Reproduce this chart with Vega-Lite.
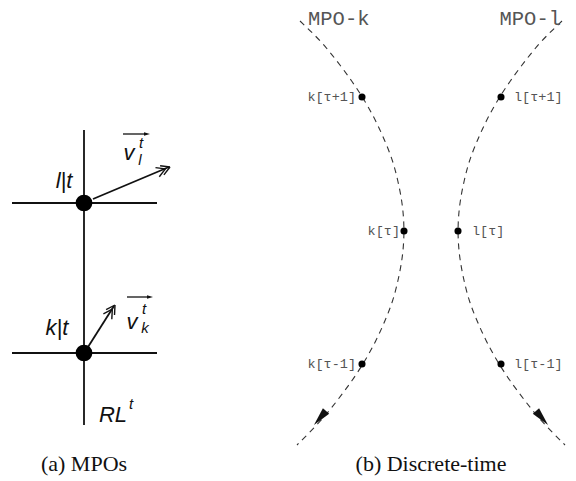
{
  "$schema": "https://vega.github.io/schema/vega-lite/v6.json",
  "width": 576,
  "height": 481,
  "padding": 0,
  "autosize": {"type": "none"},
  "background": "white",
  "config": {"view": {"stroke": null}},
  "datasets": {
    "segs": [
      {"x": 84, "y": 130, "x2": 84, "y2": 425},
      {"x": 12, "y": 203, "x2": 157, "y2": 203},
      {"x": 12, "y": 353, "x2": 157, "y2": 353},
      {"x": 93, "y": 199, "x2": 169, "y2": 167},
      {"x": 88, "y": 347, "x2": 114, "y2": 306}
    ],
    "chev": [
      {"x": 170, "y": 167, "x2": 160.1, "y2": 165.7},
      {"x": 170, "y": 167, "x2": 163.9, "y2": 174.9},
      {"x": 165.4, "y": 168.9, "x2": 155.5, "y2": 167.6},
      {"x": 165.4, "y": 168.9, "x2": 159.3, "y2": 176.8},
      {"x": 115, "y": 305, "x2": 106.1, "y2": 309.6},
      {"x": 115, "y": 305, "x2": 114.5, "y2": 315},
      {"x": 112.3, "y": 309.2, "x2": 103.4, "y2": 313.8},
      {"x": 112.3, "y": 309.2, "x2": 111.8, "y2": 319.2}
    ],
    "over": [
      {"x": 123, "y": 134, "x2": 146, "y2": 134},
      {"x": 127, "y": 297, "x2": 149, "y2": 297}
    ],
    "overHead": [
      {"x": 147, "y": 134},
      {"x": 150, "y": 297}
    ],
    "bigDots": [
      {"x": 84, "y": 203},
      {"x": 84, "y": 353}
    ],
    "curves": [
      {"c": "k", "x": 300, "y": 21}, {"c": "k", "x": 321, "y": 41}, {"c": "k", "x": 337, "y": 61},
      {"c": "k", "x": 352, "y": 81}, {"c": "k", "x": 365, "y": 101}, {"c": "k", "x": 376, "y": 121},
      {"c": "k", "x": 385, "y": 141}, {"c": "k", "x": 393, "y": 161}, {"c": "k", "x": 398, "y": 181},
      {"c": "k", "x": 402, "y": 201}, {"c": "k", "x": 404, "y": 221}, {"c": "k", "x": 404, "y": 241},
      {"c": "k", "x": 402, "y": 261}, {"c": "k", "x": 398, "y": 281}, {"c": "k", "x": 393, "y": 301},
      {"c": "k", "x": 385, "y": 321}, {"c": "k", "x": 376, "y": 341}, {"c": "k", "x": 365, "y": 361},
      {"c": "k", "x": 352, "y": 381}, {"c": "k", "x": 337, "y": 401}, {"c": "k", "x": 321, "y": 421},
      {"c": "k", "x": 297, "y": 445},
      {"c": "l", "x": 562, "y": 21}, {"c": "l", "x": 541, "y": 41}, {"c": "l", "x": 525, "y": 61},
      {"c": "l", "x": 510, "y": 81}, {"c": "l", "x": 497, "y": 101}, {"c": "l", "x": 486, "y": 121},
      {"c": "l", "x": 477, "y": 141}, {"c": "l", "x": 469, "y": 161}, {"c": "l", "x": 464, "y": 181},
      {"c": "l", "x": 460, "y": 201}, {"c": "l", "x": 458, "y": 221}, {"c": "l", "x": 458, "y": 241},
      {"c": "l", "x": 460, "y": 261}, {"c": "l", "x": 464, "y": 281}, {"c": "l", "x": 469, "y": 301},
      {"c": "l", "x": 477, "y": 321}, {"c": "l", "x": 486, "y": 341}, {"c": "l", "x": 497, "y": 361},
      {"c": "l", "x": 510, "y": 381}, {"c": "l", "x": 525, "y": 401}, {"c": "l", "x": 541, "y": 421},
      {"c": "l", "x": 565, "y": 445}
    ],
    "smallDots": [
      {"x": 362, "y": 97}, {"x": 404, "y": 231}, {"x": 362, "y": 364},
      {"x": 501, "y": 97}, {"x": 458, "y": 231}, {"x": 501, "y": 364}
    ],
    "headL": [{"x": 320, "y": 418}],
    "headR": [{"x": 542, "y": 418}],
    "monoR": [
      {"x": 356, "y": 97, "t": "k[τ+1]"},
      {"x": 400, "y": 231, "t": "k[τ]"},
      {"x": 356, "y": 364, "t": "k[τ-1]"}
    ],
    "monoL": [
      {"x": 514, "y": 97, "t": "l[τ+1]"},
      {"x": 472, "y": 231, "t": "l[τ]"},
      {"x": 514, "y": 364, "t": "l[τ-1]"}
    ],
    "mpoL": [{"x": 308, "y": 19, "t": "MPO-k"}],
    "mpoR": [{"x": 561, "y": 19, "t": "MPO-l"}],
    "italBig": [
      {"x": 64, "y": 181, "t": "l|t"},
      {"x": 57, "y": 328, "t": "k|t"},
      {"x": 113, "y": 415, "t": "RL"},
      {"x": 129, "y": 153, "t": "v"},
      {"x": 132, "y": 322, "t": "v"}
    ],
    "italSmall": [
      {"x": 131, "y": 404, "t": "t"},
      {"x": 141, "y": 143, "t": "t"},
      {"x": 140, "y": 160, "t": "l"},
      {"x": 144, "y": 309, "t": "t"},
      {"x": 145, "y": 328, "t": "k"}
    ],
    "captions": [
      {"x": 84, "y": 464, "t": "(a) MPOs"},
      {"x": 431, "y": 464, "t": "(b) Discrete-time"}
    ]
  },
  "encoding": {
    "x": {"field": "x", "type": "quantitative", "scale": {"domain": [0, 576], "nice": false, "zero": false}, "axis": null},
    "y": {"field": "y", "type": "quantitative", "scale": {"domain": [0, 481], "nice": false, "zero": false, "reverse": true}, "axis": null}
  },
  "layer": [
    {
      "data": {"name": "segs"},
      "mark": {"type": "rule", "color": "#111", "strokeWidth": 1.8},
      "encoding": {"x2": {"field": "x2"}, "y2": {"field": "y2"}}
    },
    {
      "data": {"name": "chev"},
      "mark": {"type": "rule", "color": "#111", "strokeWidth": 1.4},
      "encoding": {"x2": {"field": "x2"}, "y2": {"field": "y2"}}
    },
    {
      "data": {"name": "over"},
      "mark": {"type": "rule", "color": "#111", "strokeWidth": 1.3},
      "encoding": {"x2": {"field": "x2"}, "y2": {"field": "y2"}}
    },
    {
      "data": {"name": "overHead"},
      "mark": {"type": "point", "shape": "M0,-1L0.6,1L-0.6,1Z", "filled": true, "color": "#111", "size": 36, "angle": 90, "opacity": 1}
    },
    {
      "data": {"name": "bigDots"},
      "mark": {"type": "point", "shape": "circle", "filled": true, "color": "#000", "size": 280, "opacity": 1}
    },
    {
      "data": {"name": "curves"},
      "mark": {"type": "line", "interpolate": "basis", "color": "#333", "strokeWidth": 1.1, "strokeDash": [6, 5]},
      "encoding": {"detail": {"field": "c"}, "order": {"field": "y", "type": "quantitative"}}
    },
    {
      "data": {"name": "smallDots"},
      "mark": {"type": "point", "shape": "circle", "filled": true, "color": "#000", "size": 50, "opacity": 1}
    },
    {
      "data": {"name": "headL"},
      "mark": {"type": "point", "shape": "M0,-1L0.45,1L-0.45,1Z", "filled": true, "color": "#111", "size": 340, "angle": 221, "opacity": 1}
    },
    {
      "data": {"name": "headR"},
      "mark": {"type": "point", "shape": "M0,-1L0.45,1L-0.45,1Z", "filled": true, "color": "#111", "size": 340, "angle": 139, "opacity": 1}
    },
    {
      "data": {"name": "monoR"},
      "mark": {"type": "text", "font": "Liberation Mono", "fontSize": 13.5, "fill": "#555", "align": "right", "baseline": "middle"},
      "encoding": {"text": {"field": "t"}}
    },
    {
      "data": {"name": "monoL"},
      "mark": {"type": "text", "font": "Liberation Mono", "fontSize": 13.5, "fill": "#555", "align": "left", "baseline": "middle"},
      "encoding": {"text": {"field": "t"}}
    },
    {
      "data": {"name": "mpoL"},
      "mark": {"type": "text", "font": "Liberation Mono", "fontSize": 20.5, "fill": "#555", "align": "left", "baseline": "middle"},
      "encoding": {"text": {"field": "t"}}
    },
    {
      "data": {"name": "mpoR"},
      "mark": {"type": "text", "font": "Liberation Mono", "fontSize": 20.5, "fill": "#555", "align": "right", "baseline": "middle"},
      "encoding": {"text": {"field": "t"}}
    },
    {
      "data": {"name": "italBig"},
      "mark": {"type": "text", "font": "Liberation Sans", "fontStyle": "italic", "fontSize": 22, "fill": "#111", "align": "center", "baseline": "middle"},
      "encoding": {"text": {"field": "t"}}
    },
    {
      "data": {"name": "italSmall"},
      "mark": {"type": "text", "font": "Liberation Sans", "fontStyle": "italic", "fontSize": 15, "fill": "#111", "align": "center", "baseline": "middle"},
      "encoding": {"text": {"field": "t"}}
    },
    {
      "data": {"name": "captions"},
      "mark": {"type": "text", "font": "Liberation Serif", "fontSize": 22, "fill": "#111", "align": "center", "baseline": "middle"},
      "encoding": {"text": {"field": "t"}}
    }
  ]
}
